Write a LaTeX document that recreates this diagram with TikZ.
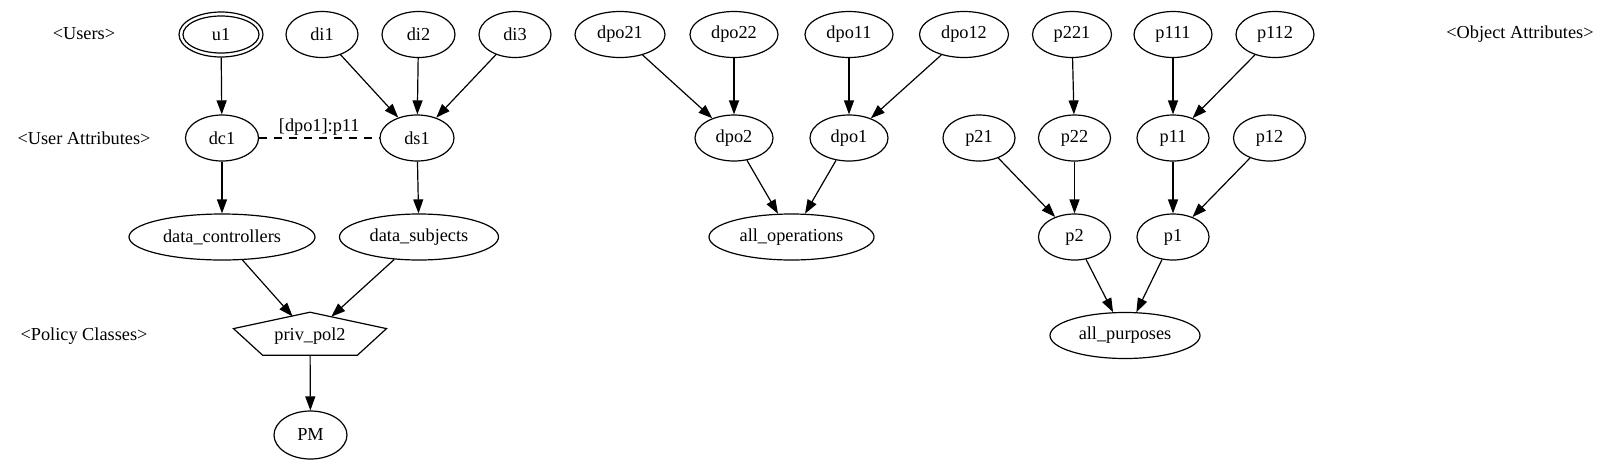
\documentclass[tikz,border=0pt]{standalone}
\usepackage{fontspec}
\setmainfont{Liberation Serif}
\usetikzlibrary{shapes.geometric}
\usetikzlibrary{arrows.meta}

\begin{document}
\begin{tikzpicture}[x=1pt,y=-1pt,
  font=\fontsize{18.3}{22}\selectfont,
  line width=1.2pt,
  att/.style={ellipse,draw,inner sep=0pt,minimum height=46pt,minimum width=#1},
  att/.default=73pt,
  lbl/.style={inner sep=0pt},
  arr/.style={-{Triangle[length=14pt,width=10pt]}}]
\useasboundingbox (0,0) rectangle (1611,464);
% rank labels
\node[lbl] (lusers) at (84,34) {<Users>};
\node[lbl] (luattr) at (84,138) {<User Attributes>};
\node[lbl] (lpc) at (84,336) {<Policy Classes>};
\node[lbl] (loattr) at (1520,34) {<Object Attributes>};
% users and user attributes
\node[att=84pt,minimum height=45pt] (u1) at (221,34.5) {u1};
\draw (u1.center) ellipse [x radius=38pt,y radius=18.5pt];
\node[att=72pt] (di1) at (322,34.5) {di1};
\node[att] (di2) at (418.5,34.5) {di2};
\node[att=72pt] (di3) at (515,34.5) {di3};
\node[att] (dc1) at (222,138) {dc1};
\node[att=74pt] (ds1) at (417,138) {ds1};
\node[att=186pt] (datactl) at (222,237) {data\_controllers};
\node[att=159pt] (datasub) at (419,237) {data\_subjects};
% policy class
\node[ellipse,inner sep=0pt,minimum width=153pt,minimum height=39pt] (privpol) at (310,336) {priv\_pol2};
\draw[shift={(privpol.center)}] (0,-23.8) -- (76.5,-7.4) -- (47.3,19.3) -- (-47.3,19.3) -- (-76.5,-7.4) -- cycle;
\node[att,minimum height=48pt] (pm) at (310.5,435) {PM};
% operations
\node[att=90pt] (dpo21) at (620,34.5) {dpo21};
\node[att=88pt] (dpo22) at (734,34.5) {dpo22};
\node[att=88pt] (dpo11) at (849,34.5) {dpo11};
\node[att=89pt] (dpo12) at (964,34.5) {dpo12};
\node[att=78pt] (dpo2) at (734,138) {dpo2};
\node[att=78pt] (dpo1) at (849,138) {dpo1};
\node[att=165pt] (allops) at (791.5,237) {all\_operations};
% purposes
\node[att=79pt] (p221) at (1072,34.5) {p221};
\node[att=78pt] (p111) at (1173,34.5) {p111};
\node[att=78pt] (p112) at (1275,34.5) {p112};
\node[att=72pt] (p21) at (979,138) {p21};
\node[att=72pt] (p22) at (1074.5,138) {p22};
\node[att=72pt] (p11) at (1173,138) {p11};
\node[att=72pt] (p12) at (1269.5,138) {p12};
\node[att=72pt] (p2) at (1074.5,237) {p2};
\node[att=72pt] (p1) at (1173,237) {p1};
\node[att=150pt] (allpur) at (1125,335.5) {all\_purposes};
% assignments
\draw[arr] (u1) -- (dc1);
\draw[arr] (di1) -- (ds1);
\draw[arr] (di2) -- (ds1);
\draw[arr] (di3) -- (ds1);
\draw[arr] (dc1) -- (datactl);
\draw[arr] (ds1) -- (datasub);
\draw[arr] (datactl) -- (privpol);
\draw[arr] (datasub) -- (privpol);
\draw[arr] (privpol) -- (pm);
\draw[dash pattern=on 8pt off 7pt] (dc1) -- (ds1) node[midway,above,inner sep=2pt] (assoc) {[dpo1]:p11};
\draw[arr] (dpo21) -- (dpo2);
\draw[arr] (dpo22) -- (dpo2);
\draw[arr] (dpo11) -- (dpo1);
\draw[arr] (dpo12) -- (dpo1);
\draw[arr] (dpo2) -- (allops);
\draw[arr] (dpo1) -- (allops);
\draw[arr] (p221) -- (p22);
\draw[arr] (p111) -- (p11);
\draw[arr] (p112) -- (p11);
\draw[arr] (p21) -- (p2);
\draw[arr] (p22) -- (p2);
\draw[arr] (p11) -- (p1);
\draw[arr] (p12) -- (p1);
\draw[arr] (p2) -- (allpur);
\draw[arr] (p1) -- (allpur);
\end{tikzpicture}
\end{document}
